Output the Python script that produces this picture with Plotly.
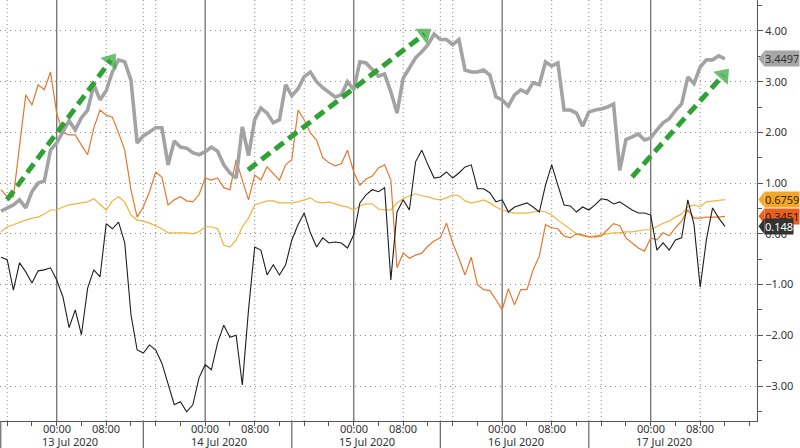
import plotly.graph_objects as go
import pandas as pd

# ---------------- data (hourly samples starting 12 Jul 2020 15:00) ----------------
START = "2020-07-12 15:00"

gray_vals = [0.45, 0.51, 0.57, 0.67, 0.51, 0.83, 1.00, 1.04, 1.65, 1.79,
             2.01, 2.23, 2.05, 2.29, 2.44, 2.94, 2.64, 2.82, 3.19, 3.43,
             3.39, 3.03, 1.79, 1.93, 2.01, 2.09, 2.09, 1.36, 1.83, 1.71,
             1.69, 1.60, 1.56, 1.62, 1.71, 1.63, 1.36, 1.20, 1.10, 2.11,
             1.54, 2.25, 2.48, 2.38, 2.19, 2.25, 2.94, 2.72, 2.86, 3.10,
             3.19, 3.00, 2.88, 2.80, 2.70, 2.74, 3.00, 2.84, 3.39, 3.37,
             3.23, 3.11, 3.15, 2.80, 2.38, 3.07, 3.27, 3.47, 3.59, 3.73,
             3.94, 3.83, 3.83, 3.73, 3.83, 3.23, 3.19, 3.19, 3.23, 3.13,
             2.70, 2.64, 2.52, 2.74, 2.84, 2.78, 2.98, 2.94, 3.39, 3.31,
             3.37, 2.44, 2.44, 2.38, 2.12, 2.40, 2.44, 2.46, 2.50, 2.56,
             1.25, 1.86, 1.91, 1.97, 1.85, 1.89, 2.05, 2.19, 2.27, 2.43,
             2.56, 3.09, 2.96, 3.29, 3.43, 3.43, 3.51, 3.4497]

orange_vals = [0.87, 0.73, 0.73, 1.79, 2.74, 2.54, 2.94, 2.84, 3.19, 2.38,
               1.99, 1.95, 1.95, 1.75, 1.56, 2.09, 2.44, 2.34, 2.30, 1.99,
               1.65, 0.87, 0.33, 0.53, 0.83, 1.22, 1.12, 0.57, 0.67, 0.73,
               0.65, 0.63, 0.77, 1.10, 1.06, 1.10, 0.91, 0.87, 1.46, 1.06,
               0.67, 1.16, 1.06, 1.32, 1.20, 1.06, 1.36, 1.46, 2.44, 2.25,
               1.99, 1.85, 1.50, 1.40, 1.34, 1.38, 1.65, 1.22, 0.96, 1.08,
               1.14, 1.30, 1.36, 1.06, -0.67, -0.38, -0.48, -0.42, -0.38, -0.24,
               -0.14, -0.08, 0.21, -0.18, -0.48, -0.81, -0.46, -1.00, -1.10, -1.12,
               -1.30, -1.50, -1.08, -1.40, -1.10, -1.10, -0.71, -0.44, 0.18, 0.12,
               0.10, -0.04, -0.08, 0.00, -0.02, -0.06, -0.06, -0.04, 0.08, 0.20,
               0.16, -0.08, -0.18, -0.28, -0.34, -0.08, -0.12, 0.02, -0.04, 0.12,
               0.25, 0.47, 0.31, 0.31, 0.33, 0.33, 0.33, 0.3451]

yellow_vals = [0.04, 0.14, 0.18, 0.23, 0.27, 0.31, 0.33, 0.39, 0.47, 0.47,
               0.53, 0.57, 0.59, 0.61, 0.63, 0.69, 0.57, 0.47, 0.65, 0.73,
               0.63, 0.37, 0.27, 0.25, 0.21, 0.16, 0.10, 0.02, 0.02, 0.02,
               0.02, 0.00, 0.04, 0.14, 0.14, 0.10, -0.22, -0.26, -0.12, 0.14,
               0.31, 0.57, 0.61, 0.65, 0.65, 0.61, 0.61, 0.61, 0.63, 0.67,
               0.71, 0.63, 0.61, 0.63, 0.59, 0.55, 0.53, 0.47, 0.55, 0.59,
               0.59, 0.49, 0.47, 0.47, 0.61, 0.69, 0.75, 0.79, 0.75, 0.73,
               0.69, 0.67, 0.71, 0.77, 0.75, 0.65, 0.61, 0.63, 0.67, 0.61,
               0.53, 0.47, 0.43, 0.41, 0.41, 0.41, 0.43, 0.45, 0.43, 0.37,
               0.27, 0.18, 0.08, 0.00, -0.04, -0.06, -0.04, -0.02, 0.00, 0.02,
               0.02, 0.04, 0.04, 0.06, 0.08, 0.08, 0.14, 0.21, 0.25, 0.33,
               0.39, 0.53, 0.57, 0.53, 0.63, 0.65, 0.67, 0.6759]

black_vals = [-0.46, -0.51, -1.11, -0.57, -0.75, -0.97, -0.73, -0.71, -0.67, -0.91,
              -1.24, -1.85, -1.50, -1.99, -1.07, -0.71, -0.85, 0.20, 0.10, 0.23,
              -0.18, -1.59, -2.29, -2.35, -2.19, -2.29, -2.55, -2.98, -3.37, -3.31,
              -3.51, -3.37, -2.84, -2.58, -2.68, -2.15, -1.80, -2.04, -2.00, -2.98,
              -1.50, -0.26, -0.32, -0.81, -0.61, -0.81, -0.61, -0.12, 0.18, 0.41,
              0.02, -0.26, -0.08, -0.18, -0.16, -0.18, -0.28, -0.02, 0.61, 0.77,
              0.87, 0.83, 0.91, -0.91, 0.43, 0.67, 0.47, 1.42, 1.65, 1.36,
              1.10, 1.12, 1.22, 1.10, 1.20, 1.32, 1.36, 0.89, 0.89, 0.81,
              0.63, 0.67, 0.43, 0.53, 0.57, 0.61, 0.53, 0.43, 0.96, 1.36,
              0.96, 0.57, 0.55, 0.43, 0.53, 0.47, 0.57, 0.69, 0.67, 0.59,
              0.63, 0.55, 0.47, 0.41, 0.41, 0.37, -0.32, -0.18, -0.32, -0.12,
              -0.08, 0.67, 0.18, -1.05, -0.12, 0.51, 0.31, 0.148]

last_labels = ["3.4497", "0.6759", "0.3451", "0.148"]

# trend arrows: (start time, start value, head time, head value)
arrows = [
    ("2020-07-12 15:58", 0.67, "2020-07-13 08:44", 3.42),
    ("2020-07-14 06:55", 1.26, "2020-07-15 11:26", 3.94),
    ("2020-07-16 20:59", 1.12, "2020-07-17 11:44", 3.13),
]

days = ["2020-07-13", "2020-07-14", "2020-07-15", "2020-07-16", "2020-07-17"]
day_labels = ["13 Jul 2020", "14 Jul 2020", "15 Jul 2020", "16 Jul 2020", "17 Jul 2020"]
time_labels = ["00:00", "08:00"]

# ---------------- styling / layout ----------------
X0 = pd.Timestamp("2020-07-12 14:50:10")
X1 = pd.Timestamp("2020-07-17 17:10:50")
YMIN, YMAX = -3.69, 4.61
FONT = "Noto Sans"
TXT = "#333333"

def tx(i):
    return pd.Timestamp(START) + pd.Timedelta(hours=i)

def px(t):
    t = pd.Timestamp(t)
    return (t - X0) / (X1 - X0)

def py(v):
    return (v - YMIN) / (YMAX - YMIN)

times = [tx(i) for i in range(len(gray_vals))]

fig = go.Figure()
fig.add_trace(go.Scatter(x=times[:len(yellow_vals)], y=yellow_vals, mode="lines",
                         line=dict(color="#f2b33d", width=1.2), hoverinfo="skip"))
fig.add_trace(go.Scatter(x=times[:len(orange_vals)], y=orange_vals, mode="lines",
                         line=dict(color="#e8772e", width=1.2), hoverinfo="skip"))
fig.add_trace(go.Scatter(x=times[:len(black_vals)], y=black_vals, mode="lines",
                         line=dict(color="#1e1e1e", width=1.1), hoverinfo="skip"))
fig.add_trace(go.Scatter(x=times, y=gray_vals, mode="lines",
                         line=dict(color="#a3a3a3", width=3.6), hoverinfo="skip"))

for (t0, v0, t1, v1) in arrows:
    fig.add_trace(go.Scatter(
        x=[t0, t1], y=[v0, v1], mode="lines+markers",
        line=dict(color="#2fa236", width=5, dash="11px,6px"),
        marker=dict(size=[0, 17], symbol="triangle-up", angleref="previous",
                    color="#2fa236", line=dict(width=0)),
        hoverinfo="skip"))

shapes = []
# vertical grid lines
for d in ["2020-07-12"] + days:
    base = pd.Timestamp(d)
    for hh, kind in [(0, "solid"), (8, "dot"), (14, "dot"), (16, "dot")]:
        t = base + pd.Timedelta(hours=hh)
        if t < X0 or t > X1:
            continue
        if d == "2020-07-17" and hh >= 14:
            continue
        if kind == "solid":
            shapes.append(dict(type="line", xref="paper", yref="paper",
                               x0=px(t), x1=px(t), y0=0, y1=1,
                               line=dict(color="#7a7a7a", width=1.4), layer="below"))
        else:
            shapes.append(dict(type="line", xref="paper", yref="paper",
                               x0=px(t), x1=px(t), y0=0, y1=1,
                               line=dict(color="#8c8c8c", width=1, dash="1px,3px"),
                               layer="below"))
# separators in the date-label band
for d in days[:-1]:
    t = pd.Timestamp(d) + pd.Timedelta(hours=14)
    shapes.append(dict(type="line", xref="paper", yref="paper",
                       x0=px(t), x1=px(t), y0=0, y1=-0.07,
                       line=dict(color="#666666", width=1.2)))
shapes.append(dict(type="line", xref="paper", yref="paper", x0=0.001, x1=0.001,
                   y0=0, y1=-0.07, line=dict(color="#666666", width=1.2)))

# last-value tags
tag_vals = [gray_vals[-1], yellow_vals[-1], orange_vals[-1], black_vals[-1]]
tag_bg = ["#a6a6a6", "#f4a62a", "#e8601c", "#333333"]
tag_fg = ["#333333", "#3b2600", "#3b1800", "#ffffff"]
W = 757.0
H = 421.0
annotations = []
for val, lab, bg, fg in zip(tag_vals, last_labels, tag_bg, tag_fg):
    yc = py(val)
    hh = 8.0 / H
    shapes.append(dict(type="path", xref="paper", yref="paper",
                       path=f"M {1 + 1.5 / W},{yc} L {1 + 7.5 / W},{yc + hh} L {1 + 7.5 / W},{yc - hh} Z",
                       fillcolor=bg, line=dict(width=0)))
    annotations.append(dict(xref="paper", yref="y", x=1, y=val, xanchor="left",
                            yanchor="middle", xshift=7, text=lab, showarrow=False,
                            bgcolor=bg, borderpad=0,
                            font=dict(family=FONT, size=11, color=fg)))

# time-of-day labels and date labels under the axis
for d, lab in zip(days, day_labels):
    for hh, tl in zip((0, 8), time_labels):
        t = pd.Timestamp(d) + pd.Timedelta(hours=hh)
        annotations.append(dict(xref="x", yref="paper", x=t, y=0, yanchor="top",
                                xanchor="center", yshift=2, text=tl, showarrow=False,
                                font=dict(family=FONT, size=11, color=TXT)))
    t = pd.Timestamp(d) + pd.Timedelta(hours=2, minutes=12)
    annotations.append(dict(xref="x", yref="paper", x=t, y=0, yanchor="top",
                            xanchor="center", yshift=-11, text=lab, showarrow=False,
                            font=dict(family=FONT, size=11, color=TXT)))

tickvals = []
for d in days:
    for hh in (0, 8):
        tickvals.append(pd.Timestamp(d) + pd.Timedelta(hours=hh))

fig.update_layout(
    width=800, height=448,
    margin=dict(l=0, r=43, t=0, b=27),
    plot_bgcolor="white", paper_bgcolor="white",
    showlegend=False,
    shapes=shapes,
    annotations=annotations,
    xaxis=dict(type="date", range=[X0, X1], tickmode="array",
               tickvals=tickvals, showticklabels=False,
               ticks="outside", ticklen=4, tickcolor="#555555",
               showline=True, linecolor="#555555", linewidth=1,
               showgrid=False, zeroline=False,
               minor=dict(tick0="2020-07-12 00:00", dtick=4 * 3600 * 1000,
                          ticks="outside", ticklen=4, tickcolor="#555555",
                          showgrid=False)),
    yaxis=dict(side="right", range=[YMIN, YMAX], tick0=0, dtick=1,
               tickformat=".2f", ticks="outside", ticklen=5, tickcolor="#555555",
               showline=True, linecolor="#555555", linewidth=1,
               showgrid=True, gridcolor="#8a8a8a", griddash="1px,4px", gridwidth=1,
               zeroline=False,
               tickfont=dict(family=FONT, size=11, color=TXT),
               minor=dict(dtick=0.5, ticks="outside", ticklen=4, tickcolor="#555555",
                          showgrid=False)),
)

fig.write_html("out.html", config={"displayModeBar": False},
               post_script="document.body.style.margin='0';document.body.style.overflow='hidden';")
